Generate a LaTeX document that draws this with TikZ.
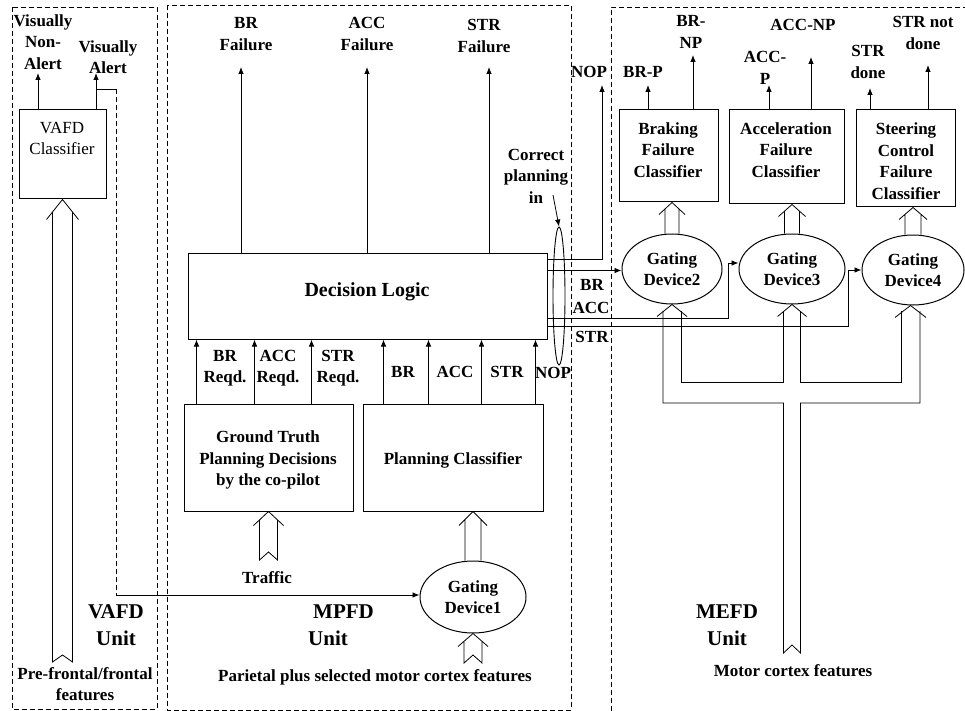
\documentclass[tikz,border=0pt]{standalone}
\usepackage{fontspec}
\setmainfont{Liberation Serif}
\usetikzlibrary{shapes.geometric,arrows.meta,calc}
\newcommand\harrow[5]{%
  \draw[hol] let \p1=(#1), \p2=(#2) in
    ({\x1-(#3+6)*1pt},{\y1-#4*1pt}) -- (\x1,\y1) -- ({\x1+(#3+6)*1pt},{\y1-#4*1pt})
    ({\x1-#3*1pt},{\y1-#4*#3/(#3+6)*1pt}) -- ({\x1-#3*1pt},\y2) -- (\x1,{\y2+#5*1pt}) -- ({\x1+#3*1pt},\y2) -- ({\x1+#3*1pt},{\y1-#4*#3/(#3+6)*1pt});}
\newcommand\harrowo[4]{%
  \draw[hol] let \p1=(#1), \p2=(#2) in
    ({\x1-(#3+6)*1pt},{\y1-#4*1pt}) -- (\x1,\y1) -- ({\x1+(#3+6)*1pt},{\y1-#4*1pt})
    ({\x1-#3*1pt},{\y1-#4*#3/(#3+6)*1pt}) -- ({\x1-#3*1pt},\y2)
    ({\x1+#3*1pt},\y2) -- ({\x1+#3*1pt},{\y1-#4*#3/(#3+6)*1pt});}
\newcommand\hhead[3]{%
  \draw[hol] let \p1=(#1) in
    ({\x1-(#2+6)*1pt},{\y1-#3*1pt}) -- (\x1,\y1) -- ({\x1+(#2+6)*1pt},{\y1-#3*1pt});}
\begin{document}
\begin{tikzpicture}[x=1pt,y=-1pt,
  every node/.style={inner sep=0pt},
  txt/.style={font=\fontsize{17}{21.5}\selectfont\bfseries, align=center},
  rtxt/.style={font=\fontsize{17}{21}\selectfont, align=center},
  unitlbl/.style={font=\fontsize{21}{27}\selectfont\bfseries, align=center},
  box/.style={draw, line width=1pt, rectangle},
  gate/.style={draw, line width=1pt, ellipse, align=center, font=\fontsize{17}{21.5}\selectfont\bfseries},
  arr/.style={line width=0.8pt, -{Latex[length=7pt,width=5.5pt]}},
  ln/.style={line width=0.8pt},
  hol/.style={line width=0.8pt},
  unitbox/.style={draw, line width=0.9pt, dash pattern=on 5pt off 3pt},
]
\fill[white] (0,0) rectangle (965,711);
\useasboundingbox (0,0) rectangle (965,711);

% ---------- unit frames ----------
\draw[unitbox] (12,7) rectangle (157,709);
\draw[unitbox] (167,5) rectangle (571,710);
\draw[unitbox] (611,711) -- (611,7) -- (965,7);

% ---------- VAFD unit ----------
\node[box, minimum width=87, minimum height=89] (vafd) at (62.5,154.5) {};
\node[rtxt] (vafdt) at (62,138) {VAFD\\Classifier};
\node[txt] (nonalert) at (43,42) {Visually\\Non-\\Alert};
\node[txt] (alert) at (108,57) {Visually\\Alert};
\coordinate (tNA) at (38,73);
\coordinate (tVA) at (96,73);
\draw[arr] (vafd.north -| tNA) -- (tNA);
\draw[arr] (vafd.north -| tVA) -- (tVA);
\coordinate (vaStart) at (96,89);
\coordinate (vaCorner) at (116,89);
\coordinate (vaLow) at (116,595);
\draw[ln] (vaStart) -- (vaCorner);
\draw[ln, dash pattern=on 5pt off 3pt] (vaCorner) -- (vaLow);
\coordinate (vafdTail) at (62,662);
\harrow{vafd.south}{vafdTail}{10}{20}{7}
\node[unitlbl] (vafdunit) at (116,625) {VAFD\\Unit};
\node[txt] (prefront) at (85,684) {Pre-frontal/frontal\\features};

% ---------- MPFD unit ----------
\node[box, minimum width=359, minimum height=86] (dl) at (367.5,296) {};
\node[font=\fontsize{20}{24}\selectfont\bfseries] (dlt) at (367,292) {Decision Logic};
\node[box, minimum width=169, minimum height=107] (gt) at (268.5,457.5) {};
\node[txt] (gtt) at (268,460) {Ground Truth\\Planning Decisions\\by the co-pilot};
\node[box, minimum width=180, minimum height=107] (pc) at (453,457.5) {};
\node[txt] (pct) at (453,460) {Planning Classifier};
\node[gate, minimum width=106, minimum height=72] (gd1) at (473,597) {Gating\\Device1};

\draw[arr] (vaLow) -- (vaLow -| gd1.west);

% failure outputs
\node[txt] (brf) at (246,34) {BR\\Failure};
\node[txt] (accf) at (367,34) {ACC\\Failure};
\node[txt] (strf) at (484,36) {STR\\Failure};
\coordinate (tBRF) at (241,67);
\coordinate (tACCF) at (367,67);
\coordinate (tSTRF) at (489,67);
\draw[arr] (dl.north -| tBRF) -- (tBRF);
\draw[arr] (dl.north -| tACCF) -- (tACCF);
\draw[arr] (dl.north -| tSTRF) -- (tSTRF);

% NOP output
\node[txt] (nop) at (589,72) {NOP};
\coordinate (tNOP) at (602,85);
\draw[arr] ([yshift=-7]dl.north east) -| (tNOP);

% correct planning
\node[txt] (cpt) at (536,176) {Correct\\planning\\in};
\node[draw, line width=0.9pt, ellipse, minimum width=12, minimum height=138] (cp) at (559,296) {};
\coordinate (cpTail) at (553,195);
\draw[arr] (cpTail) -- (cp.north);

% inputs to decision logic
\draw[arr] ([xshift=13]gt.north west) -- ([xshift=13]gt.north west |- dl.south);
\draw[arr] ([xshift=71]gt.north west) -- ([xshift=71]gt.north west |- dl.south);
\draw[arr] ([xshift=128]gt.north west) -- ([xshift=128]gt.north west |- dl.south);
\draw[arr] ([xshift=21]pc.north west) -- ([xshift=21]pc.north west |- dl.south);
\draw[arr] ([xshift=66]pc.north west) -- ([xshift=66]pc.north west |- dl.south);
\draw[arr] ([xshift=119]pc.north west) -- ([xshift=119]pc.north west |- dl.south);
\draw[arr] ([xshift=173]pc.north west) -- ([xshift=173]pc.north west |- dl.south);
\node[txt] (brr) at (225,368) {BR\\Reqd.};
\node[txt] (accr) at (278,368) {ACC\\Reqd.};
\node[txt] (strr) at (338,368) {STR\\Reqd.};
\node[txt] (brin) at (403,372) {BR};
\node[txt] (accin) at (455,372) {ACC};
\node[txt] (strin) at (507,372) {STR};
\node[txt] (nopin) at (553,373) {NOP};

% traffic and gating device 1
\coordinate (trTail) at (268.5,560);
\harrow{gt.south}{trTail}{9}{14}{8}
\node[txt] (traffic) at (267,578) {Traffic};
\harrowo{pc.south -| gd1.north}{gd1.north}{8}{14}
\coordinate (gd1Tail) at (473,663);
\harrow{gd1.south}{gd1Tail}{9}{13}{8}
\node[unitlbl, align=left, anchor=west] (mpfdunit) at (308,625) {\hspace*{5pt}MPFD\\Unit};
\node[txt] (parietal) at (375,677) {Parietal plus selected motor cortex features};

% ---------- MEFD unit ----------
\node[box, minimum width=99, minimum height=92] (brk) at (668.5,156) {};
\node[txt] (brkt) at (668,150) {Braking\\Failure\\Classifier};
\node[box, minimum width=115, minimum height=94] (acc) at (786.5,157) {};
\node[txt] (acct) at (786,150) {Acceleration\\Failure\\Classifier};
\node[box, minimum width=99, minimum height=97] (stc) at (905.5,158.5) {};
\node[txt] (stct) at (906,161) {Steering\\Control\\Failure\\Classifier};

\node[gate, minimum width=100, minimum height=70] (gd2) at (672,269) {Gating\\Device2};
\node[gate, minimum width=106, minimum height=70] (gd3) at (792,269) {Gating\\Device3};
\node[gate, minimum width=102, minimum height=70] (gd4) at (913,270) {Gating\\Device4};

% outputs
\node[txt] (brp) at (643,72) {BR-P};
\node[txt] (brnp) at (691,32) {BR-\\NP};
\node[txt] (accp) at (765,68) {ACC-\\P};
\node[txt] (accnp) at (803,25) {ACC-NP};
\node[txt] (strd) at (868,62) {STR\\done};
\node[txt] (strnd) at (923,33) {STR not\\done};
\coordinate (tBRP) at (648,85);
\coordinate (tBRNP) at (693,55);
\coordinate (tACCP) at (769,85);
\coordinate (tACCNP) at (811,57);
\coordinate (tSTRD) at (870,88);
\coordinate (tSTRND) at (928,65);
\draw[arr] (brk.north -| tBRP) -- (tBRP);
\draw[arr] (brk.north -| tBRNP) -- (tBRNP);
\draw[arr] (acc.north -| tACCP) -- (tACCP);
\draw[arr] (acc.north -| tACCNP) -- (tACCNP);
\draw[arr] (stc.north -| tSTRD) -- (tSTRD);
\draw[arr] (stc.north -| tSTRND) -- (tSTRND);

% gating devices up to classifiers
\harrowo{brk.south -| gd2.north}{gd2.north}{7}{12}
\harrowo{acc.south -| gd3.north}{gd3.north}{7.5}{12}
\harrowo{stc.south -| gd4.north}{gd4.north}{8}{12}

% decision lines to gating devices
\node[txt] (brl) at (592,285) {BR};
\node[txt] (accl) at (591,308) {ACC};
\node[txt] (strl) at (592,337) {STR};
\draw[arr] ([yshift=-18]dl.north east) -- ([yshift=-18]dl.north east -| gd2.west);
\coordinate (accTurn) at (728,263);
\draw[arr] ([yshift=-66]dl.north east) -| (accTurn) -- (accTurn -| gd3.west);
\coordinate (strTurn) at (848,270);
\draw[arr] ([yshift=-74]dl.north east) -| (strTurn) -- (strTurn -| gd4.west);

% motor cortex feature pipes
\coordinate (h4) at ([xshift=-2.5]gd4.south);
\hhead{gd2.south}{9}{12}
\hhead{gd3.south}{8.5}{12}
\hhead{h4}{9.5}{12}
\draw[hol] (663,311) -- (663,403) -- (783.5,403) -- (783.5,653) -- (792,645) -- (800.5,653) -- (800.5,403) -- (920,403) -- (920,311);
\draw[hol] (681,311) -- (681,382) -- (783.5,382) -- (783.5,311);
\draw[hol] (800.5,311) -- (800.5,382) -- (901,382) -- (901,311);
\node[unitlbl] (mefdunit) at (727,625) {MEFD\\Unit};
\node[txt] (motor) at (793,671) {Motor cortex features};
\end{tikzpicture}
\end{document}
